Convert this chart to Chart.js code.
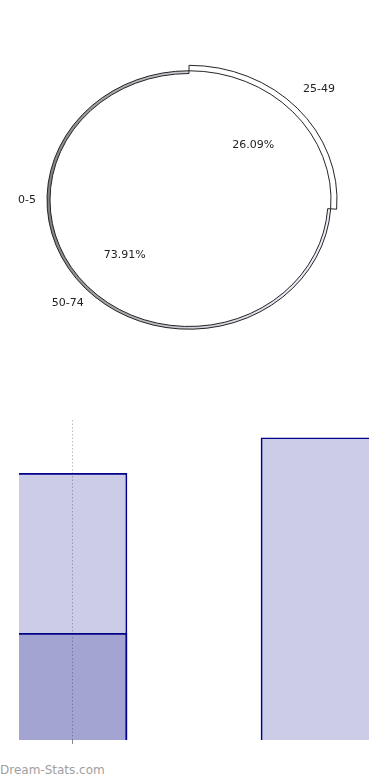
<!DOCTYPE html>
<html>
<head>
<meta charset="utf-8">
<script src="https://cdn.jsdelivr.net/npm/chart.js@4/dist/chart.umd.min.js"></script>
<style>
  html, body { margin: 0; padding: 0; background: #fff; }
  body { width: 390px; height: 780px; position: relative; overflow: hidden; }
  #pie-wrap { position: absolute; left: 0; top: 0; width: 390px; height: 400px; }
  #bar-wrap { position: absolute; left: 0; top: 400px; width: 390px; height: 360px; }
  .brand {
    position: absolute; left: 0; top: 763px;
    font: 12px "DejaVu Sans", sans-serif; line-height: 14px; color: #a0a0a0;
  }
</style>
</head>
<body>
<div id="pie-wrap"><canvas id="pie"></canvas></div>
<div id="bar-wrap"><canvas id="bars"></canvas></div>
<div class="brand">Dream-Stats.com</div>

<script>
// pie: age groups and counts
const sliceLabels = ['0-5', '25-49', '50-74'];
const sliceCounts = [0, 6, 17];

// bars: x positions and the two overlapping series
const barX = [0, 1];
const outerBar = [15, 17];
const innerBar = [6, null];

const explodedIndex = 1;
const squashY = 0.91;
const labelFont = '11px "DejaVu Sans", sans-serif';

const clear = 'rgba(0,0,0,0)';

// draw the pie as an ellipse
const squash = {
  id: 'squash',
  beforeDatasetsDraw(chart) {
    const { ctx, chartArea } = chart;
    const cy = (chartArea.top + chartArea.bottom) / 2;
    ctx.save();
    ctx.translate(0, cy);
    ctx.scale(1, squashY);
    ctx.translate(0, -cy);
  },
  afterDatasetsDraw(chart) {
    chart.ctx.restore();
  },
};

const pieLabels = {
  id: 'pieLabels',
  afterDraw(chart) {
    const { ctx } = chart;
    const top = chart.getDatasetMeta(2).data;
    const band = chart.getDatasetMeta(0).data;
    const rim = chart.getDatasetMeta(1).data;
    const total = sliceCounts.reduce((a, b) => a + b, 0);
    ctx.save();
    ctx.font = labelFont;
    ctx.fillStyle = '#222';
    ctx.textAlign = 'center';
    ctx.textBaseline = 'middle';
    top.forEach((arc, i) => {
      const value = sliceCounts[i];
      const mid = value ? (arc.startAngle + arc.endAngle) / 2 : Math.PI;
      let rOut;
      if (i === explodedIndex) rOut = band[i].outerRadius + 30;
      else rOut = rim[i].outerRadius + (value ? 24 : 20);
      ctx.fillText(sliceLabels[i], arc.x + rOut * Math.cos(mid), arc.y + rOut * Math.sin(mid) * squashY);
      if (value) {
        const rIn = rim[i].outerRadius * 0.62;
        const pct = (value / total * 100).toFixed(2) + '%';
        ctx.fillText(pct, arc.x + rIn * Math.cos(mid), arc.y + rIn * Math.sin(mid) * squashY);
      }
    });
    ctx.restore();
  },
};

function rimFill(c) {
  const { ctx, chartArea } = c.chart;
  if (!chartArea) return '#ccc';
  const g = ctx.createLinearGradient(chartArea.left + 40, 0, chartArea.right - 40, 0);
  g.addColorStop(0, '#808080');
  g.addColorStop(0.5, '#cfd1da');
  g.addColorStop(1, '#eef0fa');
  return g;
}

new Chart(document.getElementById('pie'), {
  type: 'pie',
  data: {
    labels: sliceLabels,
    datasets: [
      {
        // exploded band around 25-49
        data: sliceCounts,
        weight: 6,
        backgroundColor: sliceLabels.map((_, i) => (i === explodedIndex ? '#fff' : clear)),
        borderColor: '#1a1a1a',
        borderWidth: sliceLabels.map((_, i) => (i === explodedIndex ? 1 : 0)),
      },
      {
        // side wall of the 3d pie
        data: sliceCounts,
        weight: 3,
        backgroundColor: (c) => (c.dataIndex === explodedIndex ? '#fff' : rimFill(c)),
        borderColor: '#1a1a1a',
        borderWidth: sliceLabels.map((_, i) => (i === explodedIndex || !sliceCounts[i] ? 0 : 1)),
      },
      {
        // top face
        data: sliceCounts,
        weight: 139,
        backgroundColor: '#fff',
        borderColor: '#fff',
        borderWidth: 1,
      },
    ],
  },
  options: {
    responsive: true,
    maintainAspectRatio: false,
    animation: false,
    radius: 148,
    layout: { padding: { right: 12 } },
    plugins: { legend: { display: false }, tooltip: { enabled: false } },
  },
  plugins: [squash, pieLabels],
});

const navy = '#00008b';
const shade = 'rgba(0,0,128,0.2)';

new Chart(document.getElementById('bars'), {
  type: 'bar',
  data: {
    datasets: [
      {
        data: barX.map((x, i) => ({ x, y: outerBar[i] })),
        backgroundColor: shade,
        borderColor: navy,
        borderSkipped: false,
        borderWidth: (c) => (c.dataIndex === 0
          ? { top: 1, right: 1, bottom: 0, left: 0 }
          : { top: 1, left: 1, bottom: 0, right: 0 }),
      },
      {
        data: barX.map((x, i) => ({ x, y: innerBar[i] })),
        backgroundColor: shade,
        borderColor: navy,
        borderSkipped: false,
        borderWidth: { top: 1, right: 1, bottom: 0, left: 0 },
      },
    ],
  },
  options: {
    responsive: true,
    maintainAspectRatio: false,
    animation: false,
    grouped: false,
    barThickness: 108,
    layout: { padding: { left: 19, right: 20, top: 20, bottom: 16 } },
    plugins: { legend: { display: false }, tooltip: { enabled: false } },
    scales: {
      x: {
        type: 'linear',
        offset: false,
        min: -0.2231,
        max: 1.2273,
        afterBuildTicks: (axis) => { axis.ticks = [{ value: barX[0] }]; },
        ticks: { display: false },
        grid: { offset: false, color: '#bdbdbd', tickColor: '#888', tickLength: 4, lineWidth: 1 },
        border: { display: false, dash: [1.5, 2] },
      },
      y: {
        display: false,
        min: 0,
        max: 18,
      },
    },
  },
});
</script>
</body>
</html>
